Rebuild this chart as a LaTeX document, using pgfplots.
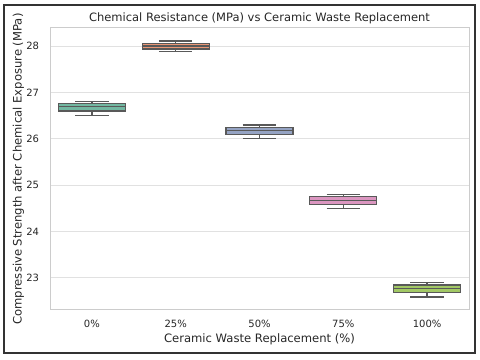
\documentclass[border=0pt]{standalone}
\usepackage{fontspec}
\setmainfont{DejaVu Sans}
\usepackage{pgfplots}
\pgfplotsset{compat=1.18}
\definecolor{c0}{RGB}{114,183,161}
\definecolor{c1}{RGB}{233,150,117}
\definecolor{c2}{RGB}{149,163,195}
\definecolor{c3}{RGB}{219,150,192}
\definecolor{c4}{RGB}{162,200,101}
\definecolor{edgegray}{RGB}{89,89,89}
\definecolor{gridgray}{RGB}{225,225,225}
\definecolor{framegray}{RGB}{204,204,204}
\begin{document}
\begin{tikzpicture}
\useasboundingbox (0,0) rectangle (480bp,360bp);
\draw[line width=1.5bp, color=black!80] (4bp,7bp) rectangle (475bp,355bp);
\begin{axis}[
  at={(50bp,50bp)}, anchor=south west,
  scale only axis, width=419bp, height=282bp,
  xmin=-0.5, xmax=4.5, ymin=22.31, ymax=28.39,
  xtick={0,1,2,3,4},
  xticklabels={0\%,25\%,50\%,75\%,100\%},
  ytick={23,24,25,26,27,28},
  major tick length=0pt,
  /pgf/number format/assume math mode=true,
  ymajorgrids, grid style={gridgray, line width=1bp},
  axis line style={framegray, line width=1bp},
  ticklabel style={font=\fontsize{10bp}{12bp}\selectfont, text=black!85},
  xticklabel style={anchor=center, yshift=-14.3bp},
  yticklabel style={anchor=east, inner sep=0pt, xshift=-10.7bp},
  xlabel={Ceramic Waste Replacement (\%)},
  ylabel={Compressive Strength after Chemical Exposure (MPa)},
  label style={font=\fontsize{11.6bp}{14bp}\selectfont, text=black!85},
  xlabel style={at={(axis description cs:0.5,0)}, anchor=center, yshift=-29.3bp},
  ylabel style={at={(axis description cs:0,0.5)}, anchor=center, yshift=31.5bp},
  wk/.style={draw=edgegray, line width=1.3bp, mark=none, solid},
]
% 0%: whiskers 26.5/26.8, quartiles 26.6/26.76, median 26.69
\addplot[wk] coordinates {(0,26.6) (0,26.5)};
\addplot[wk] coordinates {(-0.2,26.5) (0.2,26.5)};
\addplot[wk] coordinates {(0,26.76) (0,26.8)};
\addplot[wk] coordinates {(-0.2,26.8) (0.2,26.8)};
\addplot[wk, fill=c0] coordinates {(-0.4,26.6) (0.4,26.6) (0.4,26.76) (-0.4,26.76)} -- cycle;
\addplot[wk] coordinates {(-0.4,26.69) (0.4,26.69)};
% 25%
\addplot[wk] coordinates {(1,27.94) (1,27.89)};
\addplot[wk] coordinates {(0.8,27.89) (1.2,27.89)};
\addplot[wk] coordinates {(1,28.06) (1,28.11)};
\addplot[wk] coordinates {(0.8,28.11) (1.2,28.11)};
\addplot[wk, fill=c1] coordinates {(0.6,27.94) (1.4,27.94) (1.4,28.06) (0.6,28.06)} -- cycle;
\addplot[wk] coordinates {(0.6,28.0) (1.4,28.0)};
% 50%
\addplot[wk] coordinates {(2,26.09) (2,26.0)};
\addplot[wk] coordinates {(1.8,26.0) (2.2,26.0)};
\addplot[wk] coordinates {(2,26.25) (2,26.3)};
\addplot[wk] coordinates {(1.8,26.3) (2.2,26.3)};
\addplot[wk, fill=c2] coordinates {(1.6,26.09) (2.4,26.09) (2.4,26.25) (1.6,26.25)} -- cycle;
\addplot[wk] coordinates {(1.6,26.18) (2.4,26.18)};
% 75%
\addplot[wk] coordinates {(3,24.58) (3,24.5)};
\addplot[wk] coordinates {(2.8,24.5) (3.2,24.5)};
\addplot[wk] coordinates {(3,24.75) (3,24.8)};
\addplot[wk] coordinates {(2.8,24.8) (3.2,24.8)};
\addplot[wk, fill=c3] coordinates {(2.6,24.58) (3.4,24.58) (3.4,24.75) (2.6,24.75)} -- cycle;
\addplot[wk] coordinates {(2.6,24.67) (3.4,24.67)};
% 100%
\addplot[wk] coordinates {(4,22.69) (4,22.59)};
\addplot[wk] coordinates {(3.8,22.59) (4.2,22.59)};
\addplot[wk] coordinates {(4,22.85) (4,22.9)};
\addplot[wk] coordinates {(3.8,22.9) (4.2,22.9)};
\addplot[wk, fill=c4] coordinates {(3.6,22.69) (4.4,22.69) (4.4,22.85) (3.6,22.85)} -- cycle;
\addplot[wk] coordinates {(3.6,22.77) (4.4,22.77)};
\end{axis}
\node[font=\fontsize{11.5bp}{14bp}\selectfont, text=black!85] at (259.5bp,342bp) {Chemical Resistance (MPa) vs Ceramic Waste Replacement};
\end{tikzpicture}
\end{document}
